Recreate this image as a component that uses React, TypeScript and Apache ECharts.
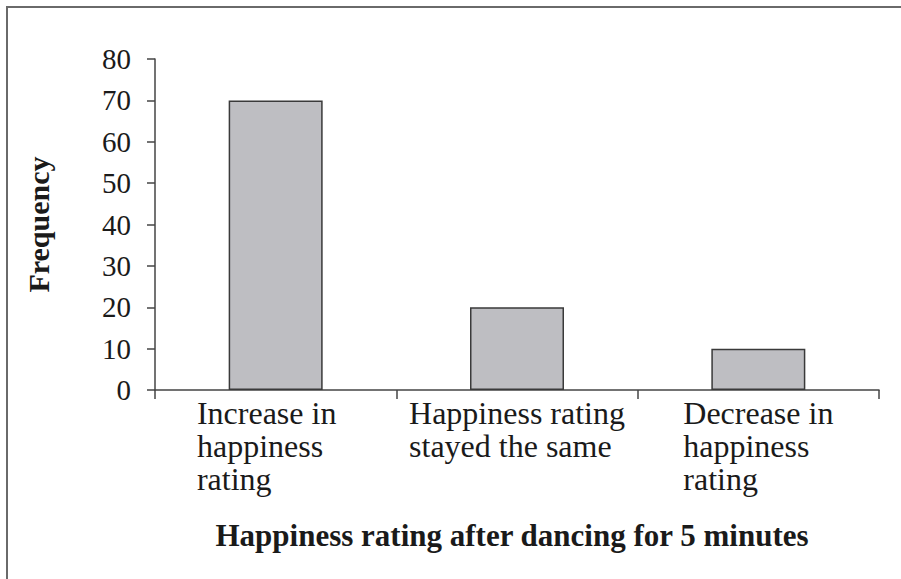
import React, { useEffect, useRef } from "react";
import * as echarts from "echarts";

const categories = [
  "Increase in\nhappiness\nrating",
  "Happiness rating\nstayed the same",
  "Decrease in\nhappiness\nrating",
];
const frequencies = [70, 20, 10];
const yTicks = { min: 0, max: 80, interval: 10 };
const xTitle = "Happiness rating after dancing for 5 minutes";
const yTitle = "Frequency";

const SERIF = '"Liberation Serif", "Times New Roman", serif';

export default function App() {
  const ref = useRef<HTMLDivElement>(null);
  useEffect(() => {
    if (!ref.current) return;
    const chart = echarts.init(ref.current, undefined, { renderer: "svg" });
    chart.setOption({
      animation: false,
      backgroundColor: "#ffffff",
      graphic: [
        {
          type: "rect",
          shape: { x: 7, y: 7, width: 1000, height: 1000 },
          style: { fill: "none", stroke: "#6a6a6a", lineWidth: 2 },
          silent: true,
        },
      ],
      grid: { left: 155, right: 22, top: 59, bottom: 189, containLabel: false },
      xAxis: {
        type: "category",
        data: categories,
        name: xTitle,
        nameLocation: "middle",
        nameGap: 130,
        nameTextStyle: {
          fontFamily: SERIF,
          fontSize: 31,
          fontWeight: "bold",
          color: "#1a1a1a",
          padding: [0, 10, 0, 0],
        },
        axisLine: { show: true, lineStyle: { color: "#444", width: 1.5 } },
        axisTick: { show: true, length: 9, lineStyle: { color: "#444", width: 1.5 } },
        axisLabel: {
          interval: 0,
          margin: 6,
          formatter: (v: string, idx: number) =>
            v
              .split("\n")
              .map((l) => (idx === 0 ? "{p|" : "{l|") + l + "}")
              .join("\n"),
          rich: {
            l: {
              fontFamily: SERIF,
              fontSize: 32,
              lineHeight: 33,
              color: "#1a1a1a",
              align: "left",
            },
            p: {
              fontFamily: SERIF,
              fontSize: 32,
              lineHeight: 33,
              color: "#1a1a1a",
              align: "left",
              padding: [0, 18, 0, 0],
            },
          },
        },
      },
      yAxis: {
        type: "value",
        min: yTicks.min,
        max: yTicks.max,
        interval: yTicks.interval,
        name: yTitle,
        nameLocation: "middle",
        nameGap: 102,
        nameRotate: 90,
        nameTextStyle: {
          fontFamily: SERIF,
          fontSize: 30,
          fontWeight: "bold",
          color: "#1a1a1a",
        },
        splitLine: { show: false },
        axisLine: { show: true, lineStyle: { color: "#444", width: 1.5 } },
        axisTick: { show: true, length: 8, lineStyle: { color: "#444", width: 1.5 } },
        axisLabel: {
          margin: 24,
          fontFamily: SERIF,
          fontSize: 29,
          color: "#1a1a1a",
        },
      },
      series: [
        {
          type: "bar",
          data: frequencies,
          barWidth: 94,
          itemStyle: { color: "#bebec2", borderColor: "#3a3a3a", borderWidth: 1.5 },
        },
      ],
    });
    return () => chart.dispose();
  }, []);
  return <div ref={ref} style={{ width: 901, height: 579, position: "absolute", left: 0, top: 0 }} />;
}
